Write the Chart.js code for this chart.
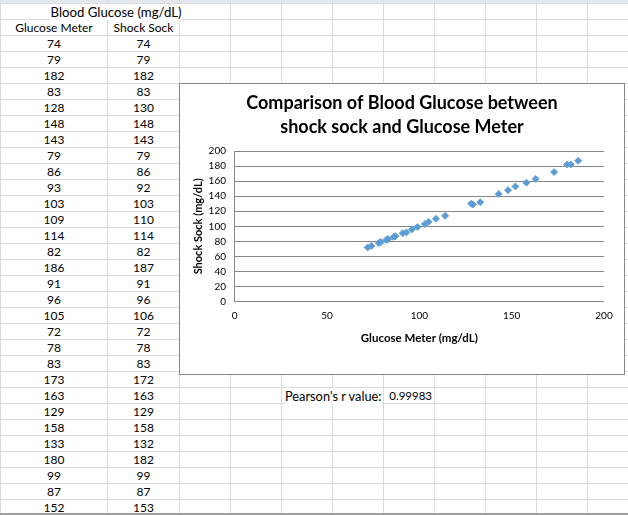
<!DOCTYPE html>
<html>
<head>
<meta charset="utf-8">
<script src="https://cdn.jsdelivr.net/npm/chart.js@4.4.1/dist/chart.umd.min.js"></script>
<style>
body { margin:0; width:628px; height:515px; overflow:hidden; background:#fff; font-family: Lato, sans-serif; }
#sheet { position:absolute; left:0; top:0; width:628px; height:515px; }
.vline { position:absolute; top:0; width:1px; height:515px; background:#dadcdd; }
.hline { position:absolute; left:0; width:628px; height:1px; background:#dadcdd; }
.cell { position:absolute; height:15px; line-height:16px; font-size:12px; color:#000; white-space:nowrap; }
.cell span { background:#fff; }
#topStrip { position:absolute; left:0; top:0; width:628px; height:3px; background:#e4e7eb; }
#bottomStrip { position:absolute; left:0; top:513px; width:628px; height:2px; background:#a0a0a0; }
#chartBox { position:absolute; left:179px; top:83px; width:446px; height:292px; border:1px solid #868686; box-sizing:border-box; background:#fff; }
</style>
</head>
<body>
<div id="sheet"><div id="topStrip"></div></div>
<div id="chartBox"><canvas id="scatterChart" width="444" height="290"></canvas></div>
<div id="bottomStrip"></div>
<script>
///////////////////////////////// DONNEES

const glucoseMeter = [74,79,182,83,128,148,143,79,86,93,103,109,114,82,186,91,96,105,72,78,83,173,163,129,158,133,180,99,87,152];
const shockSock = [74,79,182,83,130,148,143,79,86,92,103,110,114,82,187,91,96,106,72,78,83,172,163,129,158,132,182,99,87,153];
const xTicks = [0,50,100,150,200];
const yTicks = [0,20,40,60,80,100,120,140,160,180,200];
const pearsonR = "0.99983";

///////////////////////////////// FEUILLE EXCEL

const sheet = document.getElementById("sheet");
const colEdges = [0,107,179,230,281,332,383,434,485,536,587];
const rowTop = 3;
const rowH = 16;

colEdges.forEach(x => {
    let v = document.createElement("div");
    v.className = "vline";
    v.style.left = x + "px";
    sheet.appendChild(v);
});
for (let r = 0; r <= 32; r++) {
    let h = document.createElement("div");
    h.className = "hline";
    h.style.top = (rowTop + r * rowH) + "px";
    sheet.appendChild(h);
}

function addCell(text, left, right, row, align, pad, size) {
    let c = document.createElement("div");
    c.className = "cell";
    let s = document.createElement("span");
    s.textContent = text;
    c.appendChild(s);
    c.style.left = (left + 1) + "px";
    c.style.width = (right - left - 1) + "px";
    c.style.top = (rowTop + row * rowH + 1) + "px";
    c.style.textAlign = align;
    if (size) c.style.fontSize = size + "px";
    if (align == "left") c.style.paddingLeft = pad + "px";
    if (align == "right") c.style.paddingRight = pad + "px";
    c.style.boxSizing = "border-box";
    sheet.appendChild(c);
}

//titre centré sur A:C
addCell("Blood Glucose (mg/dL)", 0, 231, 0, "center", 0, 13.2);
addCell("Glucose Meter", 0, 107, 1, "center", 0);
addCell("Shock Sock", 107, 179, 1, "center", 0);
glucoseMeter.forEach((v, i) => {
    addCell(String(v), 0, 107, i + 2, "center", 0);
    addCell(String(shockSock[i]), 107, 179, i + 2, "center", 0);
});
addCell("Pearson's r value:", 281, 383, 24, "left", 3, 12.8);
addCell(pearsonR, 383, 434, 24, "right", 2, 11.5);

///////////////////////////////// GRAPH SCATTER

let chart = document.getElementById("scatterChart");
let scatterChart = new Chart(chart, {
    type: 'scatter',
    data: {
        datasets: [
            {
                label: "Shock Sock",
                data: glucoseMeter.map((g, i) => ({x: g, y: shockSock[i]})),
                pointStyle: 'rectRot',
                pointRadius: 3.5,
                backgroundColor: "#5b9bd5",
                borderColor: "#6ba5da",
                borderWidth: 1,
            },
        ]
    },
    options: {
        responsive: false,
        animation: false,
        layout: { padding: { left: 20, right: 20, top: 0, bottom: 0 } },
        plugins: {
            legend: { display: false },
            tooltip: { enabled: false },
            title: {
                display: true,
                text: ["Comparison of Blood Glucose between", "shock sock and Glucose Meter"],
                color: "#000",
                font: { family: "Lato", size: 18, weight: "bold", lineHeight: 1.3 },
                padding: { top: 7.6, bottom: 12.6 },
            }
        },
        scales: {
            x: {
                type: 'linear',
                min: 0,
                max: 200,
                afterBuildTicks: axis => { axis.ticks = xTicks.map(v => ({value: v})); },
                afterFit: axis => { axis.height = 72.3; },
                grid: { display: false },
                border: { display: false },
                ticks: { color: "#000", padding: 0, font: { family: "Lato", size: 10 } },
                title: {
                    display: true,
                    text: "Glucose Meter (mg/dL)",
                    color: "#000",
                    font: { family: "Lato", size: 11.5, weight: "bold" },
                    padding: { top: 0, bottom: 28.4 },
                }
            },
            y: {
                min: 0,
                max: 200,
                afterBuildTicks: axis => { axis.ticks = yTicks.map(v => ({value: v})); },
                afterFit: axis => { axis.width = 34.7; },
                grid: { color: "#868686", drawTicks: false },
                border: { display: true, color: "#868686" },
                ticks: { color: "#000", padding: 8.7, font: { family: "Lato", size: 10 } },
                title: {
                    display: true,
                    text: "Shock Sock (mg/dL)",
                    color: "#000",
                    font: { family: "Lato", size: 11, weight: "bold" },
                    padding: { top: -7.9, bottom: 0 },
                }
            }
        }
    }
});
</script>
</body>
</html>
